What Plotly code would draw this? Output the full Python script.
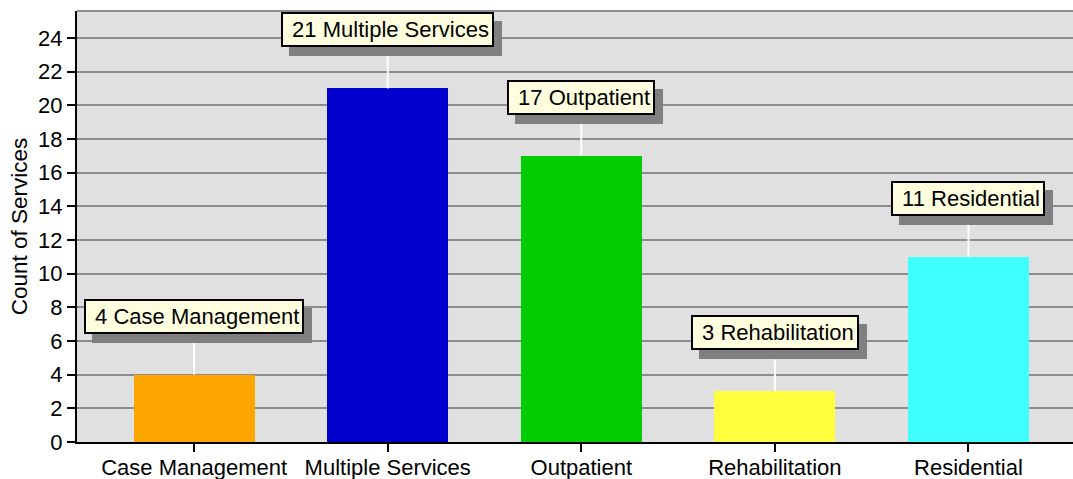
import plotly.graph_objects as go

categories = ["Case Management", "Multiple Services", "Outpatient", "Rehabilitation", "Residential"]
counts = [4, 21, 17, 3, 11]
bar_colors = ["#FFA500", "#0000CC", "#00CC00", "#FFFF40", "#40FFFF"]
y_ticks = list(range(0, 25, 2))

FONT = "Liberation Sans, Arial, sans-serif"

fig = go.Figure()
fig.add_trace(go.Bar(
    x=categories, y=counts, marker=dict(color=bar_colors, line=dict(width=0)),
    width=0.625, hoverinfo="skip", showlegend=False,
))

shapes = []
annotations = []
for cat, val in zip(categories, counts):
    label = "\u00a0" + f"{val} {cat}"
    shapes.append(dict(type="line", xref="x", yref="y", x0=cat, x1=cat,
                       ysizemode="pixel", yanchor=val, y0=0, y1=32,
                       line=dict(color="white", width=2), layer="above"))
    annotations.append(dict(x=cat, y=val, xref="x", yref="y", text=label, showarrow=False,
                            yanchor="bottom", xanchor="center", xshift=8, yshift=32,
                            font=dict(family=FONT, size=22, color="#808080"),
                            bgcolor="#808080", bordercolor="#808080", borderwidth=2, borderpad=3))
    annotations.append(dict(x=cat, y=val, xref="x", yref="y", text=label, showarrow=False,
                            yanchor="bottom", xanchor="center", yshift=41,
                            font=dict(family=FONT, size=22, color="black"),
                            bgcolor="#FFFFE0", bordercolor="black", borderwidth=2, borderpad=3))

shapes.append(dict(type="line", xref="paper", yref="paper", x0=0, x1=1, y0=1, y1=1,
                   line=dict(color="#8c8c8c", width=2), layer="below"))

fig.update_layout(
    width=1073, height=479,
    margin=dict(l=77, r=0, t=11, b=37, autoexpand=False),
    paper_bgcolor="white", plot_bgcolor="#E0E0E0",
    font=dict(family=FONT, size=22, color="black"),
    bargap=0,
    shapes=shapes, annotations=annotations,
    xaxis=dict(range=[-0.605, 4.54], showgrid=False, showline=True, linecolor="black", linewidth=2,
               ticks="outside", ticklen=8, tickwidth=2, tickcolor="black", automargin=False,
               ticklabelstandoff=-3,
               tickfont=dict(family=FONT, size=22, color="black"), zeroline=False, fixedrange=True),
    yaxis=dict(range=[0, 25.6], tickvals=y_ticks, showgrid=True, gridcolor="#8c8c8c", gridwidth=2,
               showline=True, linecolor="black", linewidth=2, ticks="outside", ticklen=8,
               tickwidth=2, tickcolor="black", automargin=False, zeroline=False,
               tickfont=dict(family=FONT, size=22, color="black"),
               title=dict(text="Count of Services", font=dict(family=FONT, size=22.5, color="black"),
                          standoff=4), fixedrange=True),
)

fig.write_html("out.html", config={"displayModeBar": False},
               post_script="document.body.style.margin='0';document.body.style.overflow='hidden';")
